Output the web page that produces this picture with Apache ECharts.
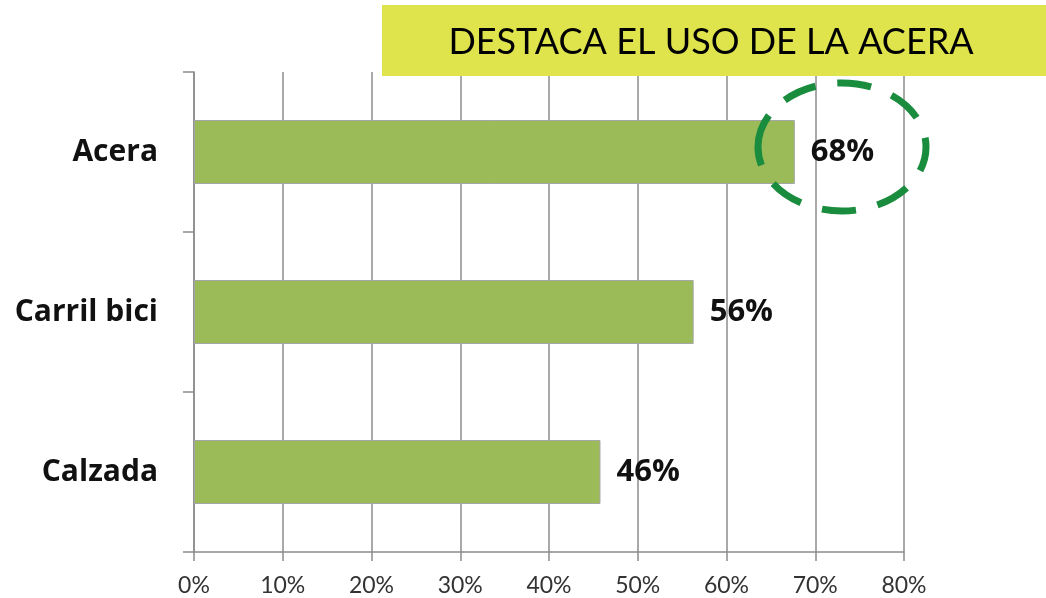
<!DOCTYPE html>
<html>
<head>
<meta charset="utf-8">
<script src="https://cdn.jsdelivr.net/npm/echarts@6/dist/echarts.min.js"></script>
<style>
html,body{margin:0;padding:0;background:#fff;}
#c{width:1046px;height:598px;}
</style>
</head>
<body>
<div id="c"></div>
<script>
var categories = ['Calzada', 'Carril bici', 'Acera'];
var values = [45.8, 56.3, 67.7];
var labelValues = [46, 56, 68];
var xTicks = [0, 10, 20, 30, 40, 50, 60, 70, 80];
var title = 'DESTACA EL USO DE LA ACERA';

var chart = echarts.init(document.getElementById('c'));
var font = 'Lato, "Open Sans", sans-serif';
var boldFont = '"Open Sans", Lato, sans-serif';
chart.setOption({
  animation: false,
  backgroundColor: '#ffffff',
  grid: {left: 194, right: 142, top: 72, bottom: 46, containLabel: false},
  xAxis: {
    type: 'value', min: 0, max: 80, interval: 10,
    axisLine: {show: true, lineStyle: {color: '#8c8c8c', width: 1.5}},
    axisTick: {show: true, length: 9, lineStyle: {color: '#8c8c8c', width: 1.5}},
    splitLine: {show: true, lineStyle: {color: '#8c8c8c', width: 1.5}},
    axisLabel: {formatter: function(v){return v + '%';}, fontSize: 23, color: '#333', fontFamily: font, margin: 22}
  },
  yAxis: {
    type: 'category', data: categories,
    axisLine: {show: true, lineStyle: {color: '#8c8c8c', width: 1.5}},
    axisTick: {show: true, length: 11, lineStyle: {color: '#8c8c8c', width: 1.5}},
    axisLabel: {fontSize: 30, fontWeight: 'bold', color: '#111', fontFamily: boldFont, margin: 36, padding: [12, 0, 0, 0]}
  },
  series: [{
    type: 'bar',
    data: values,
    barWidth: '40%',
    itemStyle: {color: '#9bbb59', borderColor: '#a6a6a6', borderWidth: 1},
    label: {
      show: true, position: 'right', distance: 16,
      formatter: function(p){return labelValues[p.dataIndex] + '%';},
      fontSize: 31, fontWeight: 'bold', color: '#111', fontFamily: boldFont, padding: [12, 0, 0, 0]
    }
  }],
  graphic: [
    {type: 'rect', shape: {x: 382, y: 5, width: 664, height: 71}, style: {fill: '#dfe44c'}, z: 100},
    {type: 'text', x: 711, y: 42, z: 101, style: {text: title, font: '36px ' + font, fill: '#000', align: 'center', verticalAlign: 'middle'}},
    {type: 'ellipse', shape: {cx: 842, cy: 147, rx: 84, ry: 64}, z: 102,
     style: {fill: 'none', stroke: '#1a8c3e', lineWidth: 7, lineDash: [34, 22]}}
  ]
});
</script>
</body>
</html>
